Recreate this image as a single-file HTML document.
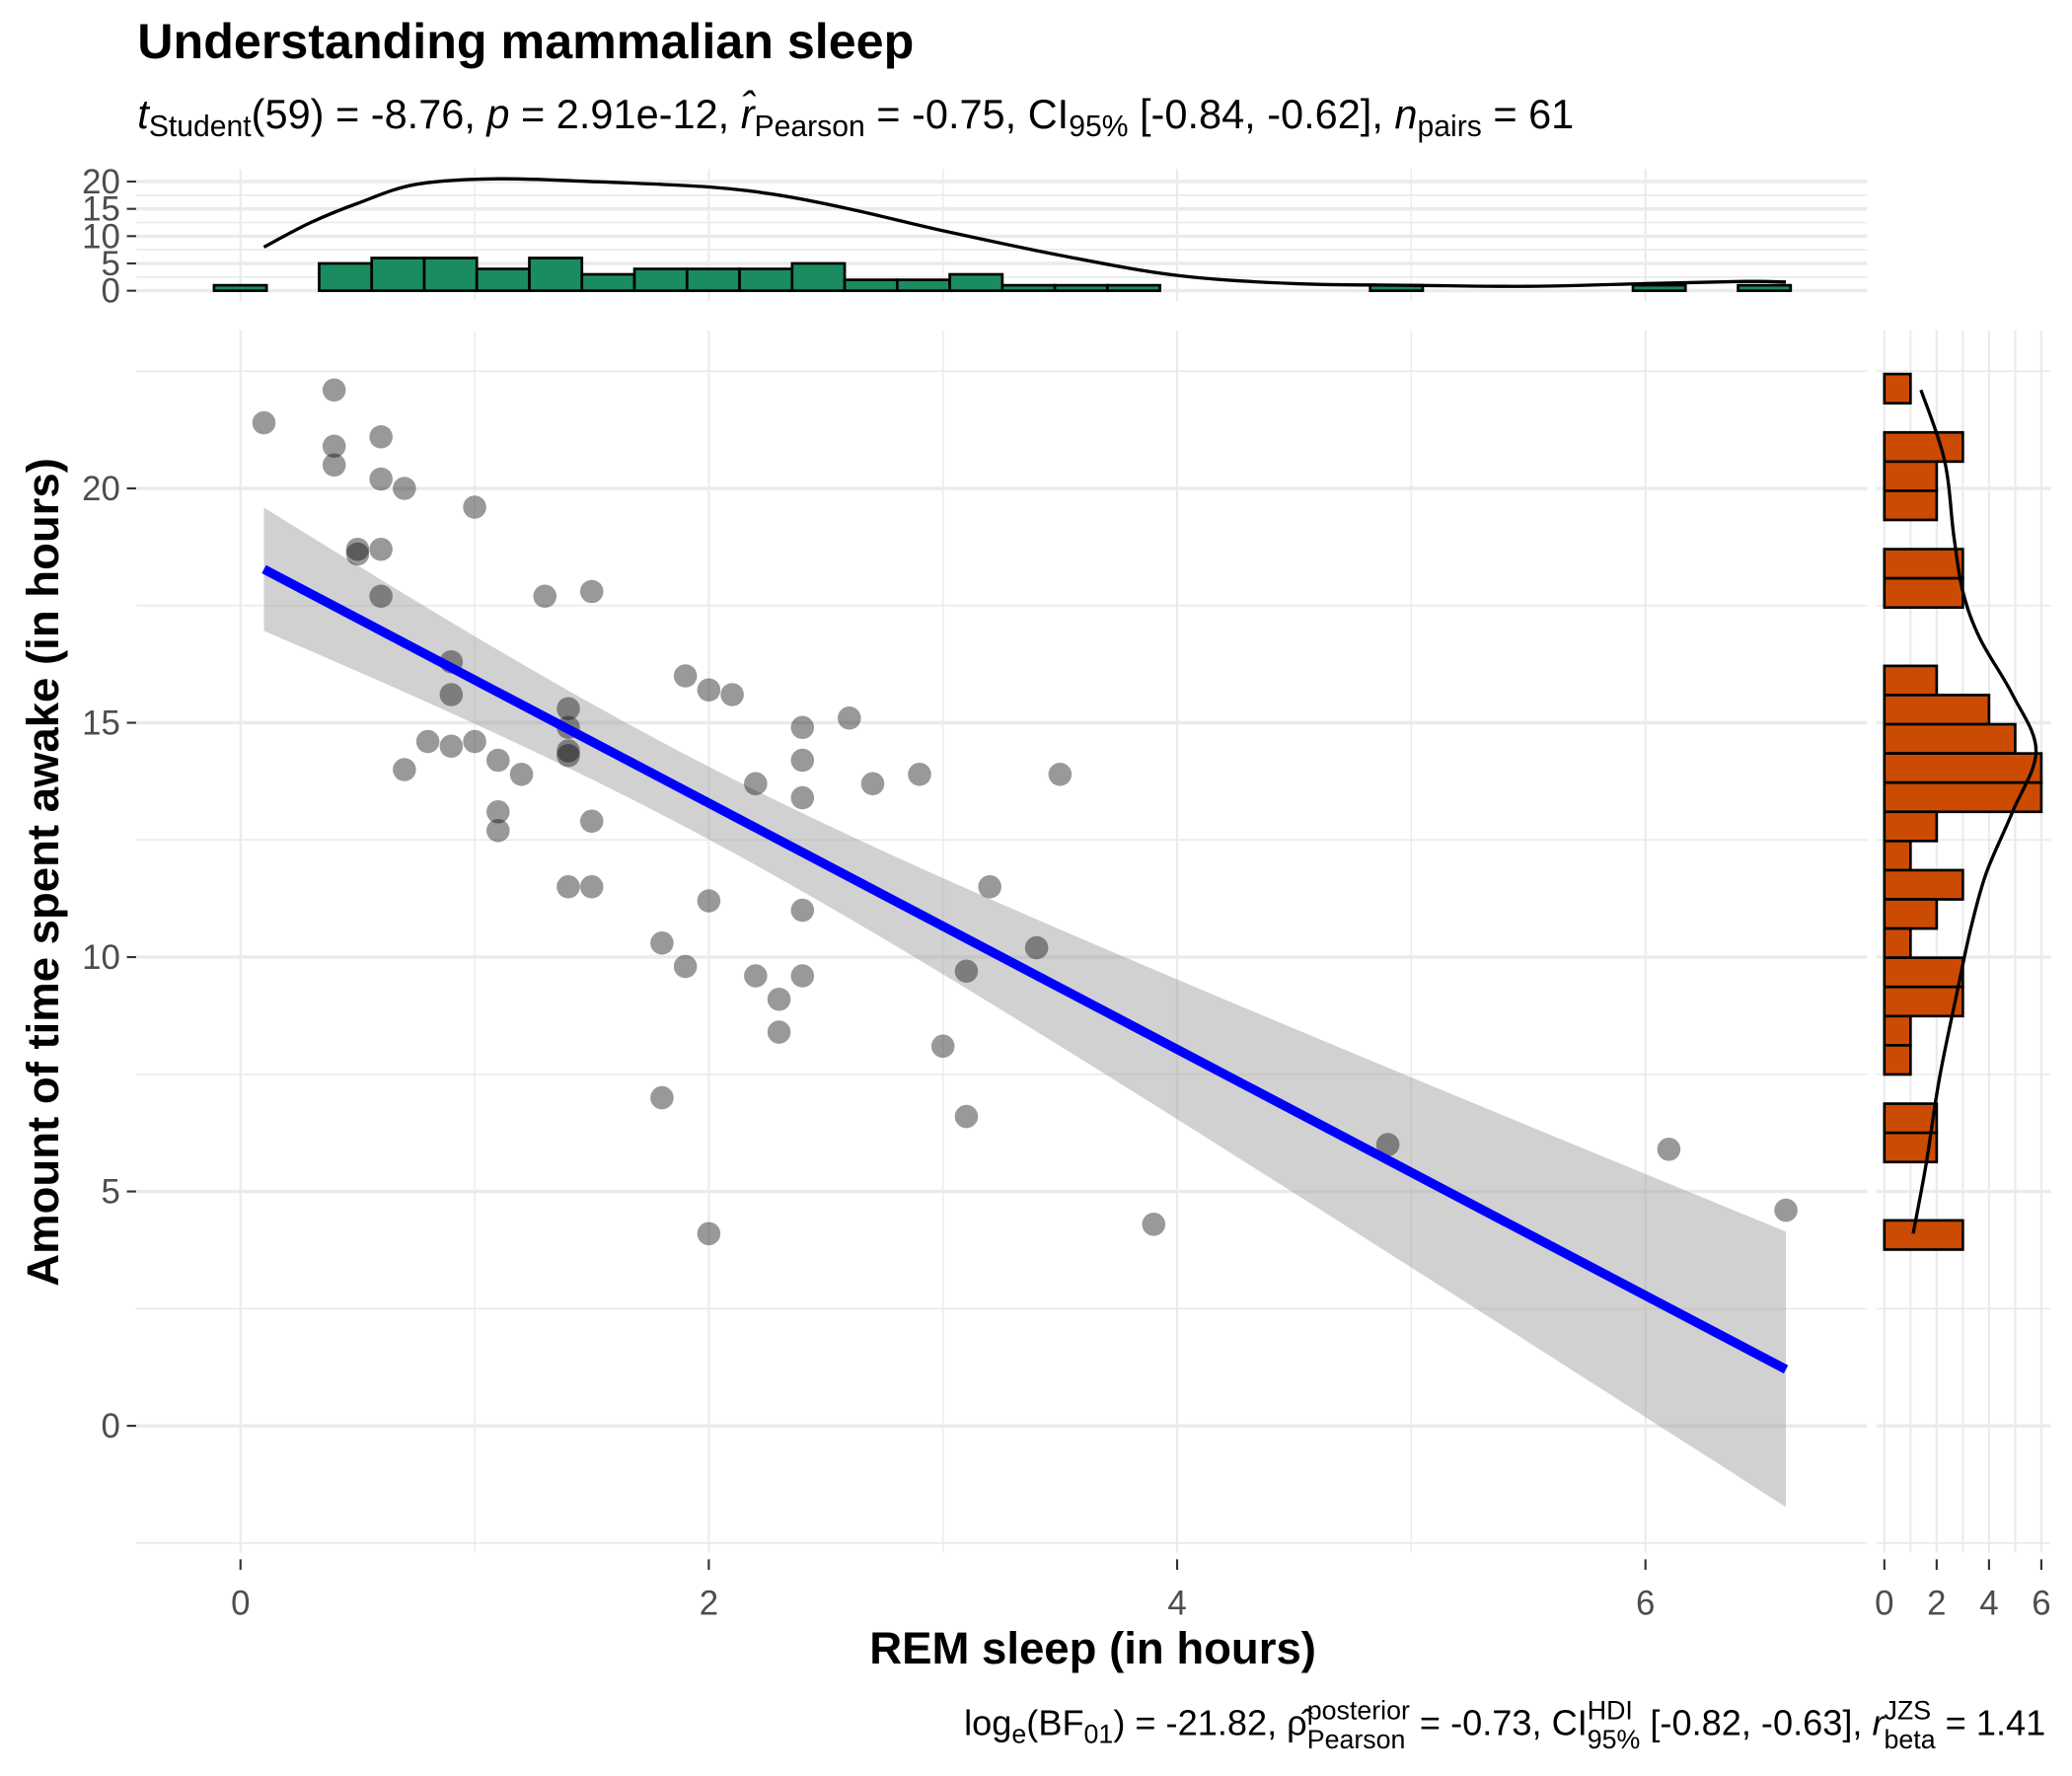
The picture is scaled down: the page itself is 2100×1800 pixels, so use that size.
<!DOCTYPE html>
<html><head><meta charset="utf-8"><style>
html,body{margin:0;padding:0;background:#fff}
svg{display:block}
text{font-family:"Liberation Sans",Arial,sans-serif}
</style></head><body>
<svg id="chart" width="2100" height="1800" viewBox="0 0 1568 1344" xmlns="http://www.w3.org/2000/svg">
<rect x="0" y="0" width="1568" height="1344" fill="#fff"/>
<g id="grid"></g>
<g id="band"></g>
<g id="pts"></g>
<g id="fit"></g>
<g id="tophist"></g>
<g id="righthist"></g>
<g id="axes"></g>
<text x="104" y="44" font-size="37.5" font-weight="bold">Understanding mammalian sleep</text>
<text x="104" y="97" font-size="31"><tspan font-style="italic">t</tspan><tspan font-size="22.5" dy="6">Student</tspan><tspan dy="-6">(59) = -8.76, </tspan><tspan font-style="italic">p</tspan><tspan> = 2.91e-12, </tspan><tspan font-style="italic">r̂</tspan><tspan font-size="22.5" dy="6">Pearson</tspan><tspan dy="-6"> = -0.75, CI</tspan><tspan font-size="22.5" dy="6">95%</tspan><tspan dy="-6"> [-0.84, -0.62], </tspan><tspan font-style="italic">n</tspan><tspan font-size="22.5" dy="6">pairs</tspan><tspan dy="-6"> = 61</tspan></text>
<text x="827" y="1259" font-size="34" font-weight="bold" text-anchor="middle">REM sleep (in hours)</text>
<text transform="translate(44,660) rotate(-90)" font-size="34" font-weight="bold" text-anchor="middle">Amount of time spent awake (in hours)</text>
<text id="caption" x="1548" y="1313" font-size="27" text-anchor="end">log<tspan font-size="20" dy="6">e</tspan><tspan dy="-6">(BF</tspan><tspan font-size="20" dy="6">01</tspan><tspan dy="-6">) = -21.82, ρ̂</tspan><tspan class="sup" font-size="20" dy="-12">posterior</tspan><tspan class="sub" font-size="20" dy="22">Pearson</tspan><tspan dy="-10"> = -0.73, CI</tspan><tspan class="sup" font-size="20" dy="-12">HDI</tspan><tspan class="sub" font-size="20" dy="22">95%</tspan><tspan dy="-10"> [-0.82, -0.63], </tspan><tspan font-style="italic">r</tspan><tspan class="sup" font-size="20" dy="-12">JZS</tspan><tspan class="sub" font-size="20" dy="22">beta</tspan><tspan dy="-10"> = 1.41</tspan></text>
</svg>
<script>
const remSleep=[0.1,0.4,0.4,0.4,0.6,0.6,0.7,1.0,0.5,0.5,0.6,0.6,1.3,1.5,0.9,0.9,0.8,0.9,1.0,0.7,1.1,1.2,1.4,1.4,1.4,1.4,1.1,1.1,1.5,1.4,1.5,1.9,2.0,2.1,2.4,2.6,2.4,2.2,2.4,2.7,2.9,3.5,2.0,2.4,3.2,1.8,1.9,2.2,2.4,2.3,3.4,3.1,2.3,3.0,1.8,3.1,4.9,6.1,6.6,3.9,2.0];
const awake=[21.4,22.1,20.9,20.5,21.1,20.2,20.0,19.6,18.7,18.6,18.7,17.7,17.7,17.8,16.3,15.6,14.6,14.5,14.6,14.0,14.2,13.9,15.3,14.9,14.4,14.3,13.1,12.7,12.9,11.5,11.5,16.0,15.7,15.6,14.9,15.1,14.2,13.7,13.4,13.7,13.9,13.9,11.2,11.0,11.5,10.3,9.8,9.6,9.6,9.1,10.2,9.7,8.4,8.1,7.0,6.6,6.0,5.9,4.6,4.3,4.1];
const topCounts=[1,0,5,6,6,4,6,3,4,4,4,5,2,2,3,1,1,1,0,0,0,0,1,0,0,0,0,1,0,1];
const topDensX=[0.1,0.3,0.5,0.75,1.1,1.5,2.0,2.3,2.6,3.0,3.5,4.0,4.5,5.0,5.5,6.0,6.4,6.6];
const topDensY=[8,12.5,16,19.5,20.5,20,19,17.5,15,11,6.5,2.8,1.3,1.0,0.8,1.3,1.7,1.6];
const rightCounts=[1,0,3,2,2,0,3,3,0,0,2,4,5,6,6,2,1,3,2,1,3,3,1,1,0,2,2,0,0,3];
const rightDensY=[22.1,20.6,19.0,17.8,16.8,15.6,14.4,13.1,11.8,10.6,9.3,7.4,5.6,4.1];
const rightDensC=[1.4,2.3,2.65,3.0,3.65,4.9,5.8,4.9,3.9,3.3,2.8,2.1,1.6,1.1];
const xTicks=[0,2,4,6], yTicks=[0,5,10,15,20], topTicks=[0,5,10,15,20], rightTicks=[0,2,4,6];

const NS="http://www.w3.org/2000/svg";
const X=v=>182+v*177.2, Y=v=>1079-v*35.47;
const TY=c=>220-c*4.13;
const RX=c=>1426+c*19.8;
const L=103,R=1413,T=250,B=1175, RL=1420,RR=1552, TT=128,TB=228;
function mk(tag,attrs,parent){const e=document.createElementNS(NS,tag);for(const k in attrs)e.setAttribute(k,attrs[k]);parent.appendChild(e);return e;}
function smooth(pts){let d='M'+pts[0][0].toFixed(1)+','+pts[0][1].toFixed(1);
 for(let i=0;i<pts.length-1;i++){const p0=pts[Math.max(i-1,0)],p1=pts[i],p2=pts[i+1],p3=pts[Math.min(i+2,pts.length-1)];
 const c1=[p1[0]+(p2[0]-p0[0])/6,p1[1]+(p2[1]-p0[1])/6],c2=[p2[0]-(p3[0]-p1[0])/6,p2[1]-(p3[1]-p1[1])/6];
 d+='C'+c1[0].toFixed(1)+','+c1[1].toFixed(1)+' '+c2[0].toFixed(1)+','+c2[1].toFixed(1)+' '+p2[0].toFixed(1)+','+p2[1].toFixed(1);}
 return d;}
const grid=document.getElementById('grid'),axes=document.getElementById('axes');
const gc="#ebebeb";
for(let v=-2.5;v<=22.5;v+=2.5){const maj=v%5===0;const l=mk('line',{x1:L,x2:R,y1:Y(v),y2:Y(v),stroke:gc,'stroke-width':maj?2.6:1.3},grid);

const l2=mk('line',{x1:RL,x2:RR,y1:Y(v),y2:Y(v),stroke:gc,'stroke-width':maj?2.6:1.3},grid);
}
for(let v=0;v<=6;v+=1){const l=mk('line',{x1:X(v),x2:X(v),y1:T,y2:B,stroke:gc,'stroke-width':v%2===0?1.6:1.1},grid);

const l2=mk('line',{x1:X(v),x2:X(v),y1:TT,y2:TB,stroke:gc,'stroke-width':v%2===0?1.6:1.1},grid);

const l3=mk('line',{x1:RX(v),x2:RX(v),y1:T,y2:B,stroke:gc,'stroke-width':1.6},grid);
}
for(let c=0;c<=20;c+=2.5){const maj=c%5===0;const l=mk('line',{x1:L,x2:R,y1:TY(c),y2:TY(c),stroke:gc,'stroke-width':maj?2.6:1.3},grid);
}

const n=remSleep.length;let mx=0,my=0;for(let i=0;i<n;i++){mx+=remSleep[i];my+=awake[i];}mx/=n;my/=n;
let sxx=0,sxy=0;for(let i=0;i<n;i++){sxx+=(remSleep[i]-mx)**2;sxy+=(remSleep[i]-mx)*(awake[i]-my);}
const b=sxy/sxx,a=my-b*mx;let sse=0;for(let i=0;i<n;i++)sse+=(awake[i]-a-b*remSleep[i])**2;
const s=Math.sqrt(sse/(n-2)),tq=2.001;
const xmin=Math.min(...remSleep),xmax=Math.max(...remSleep);
let up=[],lo=[];for(let k=0;k<=60;k++){const x=xmin+(xmax-xmin)*k/60;const f=a+b*x;const se=s*Math.sqrt(1/n+(x-mx)**2/sxx);
up.push(X(x).toFixed(2)+","+Y(f+tq*se).toFixed(2));lo.unshift(X(x).toFixed(2)+","+Y(f-tq*se).toFixed(2));}
const band=mk('polygon',{points:up.concat(lo).join(' '),fill:'#999','fill-opacity':0.45},document.getElementById('band'));

const pg=document.getElementById('pts');
for(let i=0;i<n;i++){const c=mk('circle',{cx:X(remSleep[i]),cy:Y(awake[i]),r:8.8,fill:'#000','fill-opacity':0.4},pg);
}
const fl=mk('line',{x1:X(xmin),y1:Y(a+b*xmin),x2:X(xmax),y2:Y(a+b*xmax),stroke:'#0000ff','stroke-width':7},document.getElementById('fit'));


const th=document.getElementById('tophist');
const t0=-0.113, tbw=(6.62-t0)/30;
topCounts.forEach((c,i)=>{const r=mk('rect',{x:X(t0+i*tbw),y:TY(c),width:tbw*177.2,height:TY(0)-TY(c),fill:'#1a8c60',stroke:'#000','stroke-width':2},th);
});
const tp=mk('path',{d:smooth(topDensX.map((x,i)=>[X(x),TY(topDensY[i])])),fill:'none',stroke:'#000','stroke-width':2.5},th);

const rh=document.getElementById('righthist');
const rTop=22.44, rbw=(22.44-3.76)/30;
rightCounts.forEach((c,i)=>{const top=rTop-i*rbw;const r=mk('rect',{x:RX(0),y:Y(top),width:RX(c)-RX(0),height:rbw*35.47,fill:'#cc4b02',stroke:'#000','stroke-width':2},rh);
});
const rp=mk('path',{d:smooth(rightDensY.map((y,i)=>[RX(rightDensC[i]),Y(y)])),fill:'none',stroke:'#000','stroke-width':2.5},rh);


function txt(x,y,str,anchor,size,name){const t=mk('text',{x:x,y:y,'font-size':size,fill:'#4d4d4d','text-anchor':anchor},axes);t.textContent=str;
return t;}
xTicks.forEach(v=>{mk('line',{x1:X(v),x2:X(v),y1:1180,y2:1188,stroke:'#333','stroke-width':1.6},axes);txt(X(v),1222,String(v),'middle',26,'x-tick-label');});
yTicks.forEach(v=>{mk('line',{x1:96,x2:103,y1:Y(v),y2:Y(v),stroke:'#333','stroke-width':1.6},axes);txt(91,Y(v)+9,String(v),'end',26,'y-tick-label');});
topTicks.forEach(v=>{mk('line',{x1:96,x2:103,y1:TY(v),y2:TY(v),stroke:'#333','stroke-width':1.6},axes);txt(91,TY(v)+9,String(v),'end',26,'top-count-tick-label');});
rightTicks.forEach(v=>{mk('line',{x1:RX(v),x2:RX(v),y1:1180,y2:1188,stroke:'#333','stroke-width':1.6},axes);txt(RX(v),1222,String(v),'middle',26,'right-count-tick-label');});
document.querySelectorAll('#caption tspan.sub').forEach(sub=>{const sup=sub.previousElementSibling;
 const w1=sup.getComputedTextLength(),w2=sub.getComputedTextLength();
 sub.setAttribute('dx',-w1);
 if(w2<w1){const nx=sub.nextElementSibling;nx.setAttribute('dx',w1-w2);}});
</script>
</body></html>
